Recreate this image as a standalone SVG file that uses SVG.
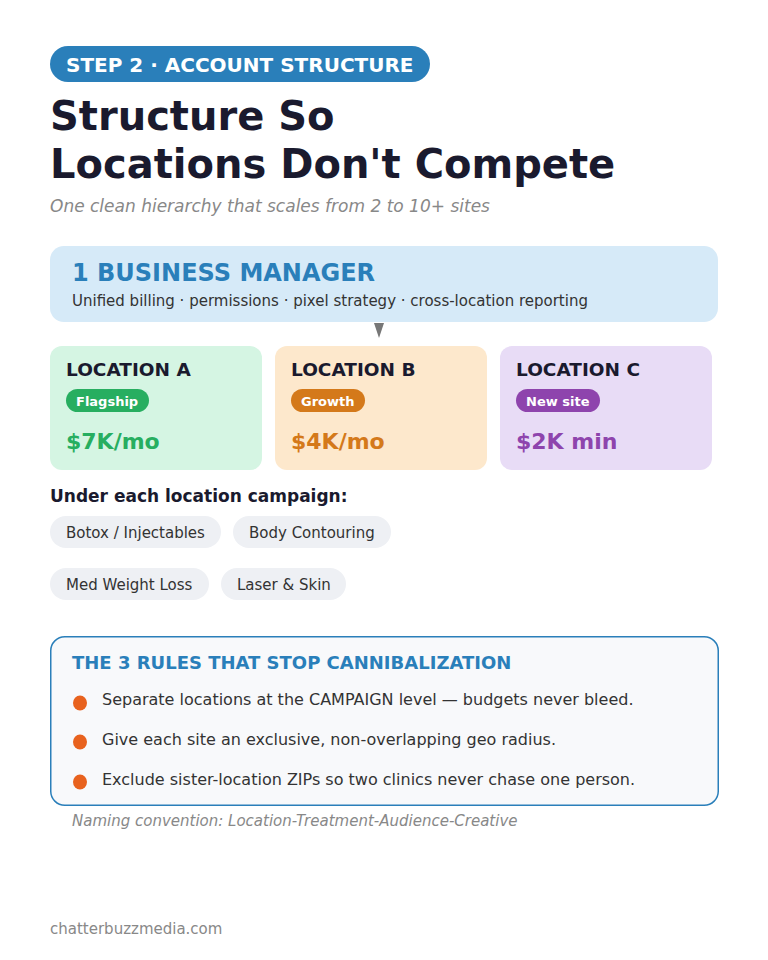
<svg xmlns="http://www.w3.org/2000/svg" width="768" height="960" viewBox="0 0 768 960">
<style>
text{font-family:"DejaVu Sans",Verdana,sans-serif}
.b{font-weight:bold}
.ct{font-size:18.5px;font-weight:bold;fill:#1a1a2e}
.bt{font-size:13px;font-weight:bold;fill:#fff}
.val{font-size:22px;font-weight:bold}
.chip{fill:#eef0f4}
.ctx{font-size:15px;fill:#333}
.rule{font-size:16px;fill:#333}
.dot{fill:#e8621e}
</style>
<rect width="768" height="960" fill="#fff"/>
<g id="header">
<rect x="50" y="46" width="380" height="36" rx="18" fill="#2a7fba"/>
<text x="66" y="72" font-size="20" class="b" fill="#fff">STEP 2 · ACCOUNT STRUCTURE</text>
<text x="50" y="130" font-size="40" class="b" fill="#1a1a2e">Structure So</text>
<text x="50" y="178" font-size="40" class="b" fill="#1a1a2e">Locations Don't Compete</text>
<text x="50" y="212" font-size="17" font-style="italic" fill="#888">One clean hierarchy that scales from 2 to 10+ sites</text>
</g>
<g id="business-manager">
<rect x="50" y="246" width="668" height="76" rx="14" fill="#d6eaf8"/>
<text x="72" y="281" font-size="24" class="b" fill="#2a7fba">1 BUSINESS MANAGER</text>
<text x="72" y="306" font-size="15" fill="#333">Unified billing · permissions · pixel strategy · cross-location reporting</text>
</g>
<g id="connectors">
<polygon points="374,323 384,323 379,338" fill="#777"/>
</g>
<g id="location-a">
<rect x="50" y="346" width="212" height="124" rx="12" fill="#d5f5e3"/>
<text x="66" y="376" class="ct">LOCATION A</text>
<rect x="66" y="389" width="83" height="23" rx="11.5" fill="#27ae60"/>
<text x="76" y="405.5" class="bt">Flagship</text>
<text x="66" y="449" class="val" fill="#27ae60">$7K/mo</text>
</g>
<g id="location-b">
<rect x="275" y="346" width="212" height="124" rx="12" fill="#fde8cc"/>
<text x="291" y="376" class="ct">LOCATION B</text>
<rect x="291" y="389" width="74" height="23" rx="11.5" fill="#d4791a"/>
<text x="301" y="405.5" class="bt">Growth</text>
<text x="291" y="449" class="val" fill="#d4791a">$4K/mo</text>
</g>
<g id="location-c">
<rect x="500" y="346" width="212" height="124" rx="12" fill="#e8dcf6"/>
<text x="516" y="376" class="ct">LOCATION C</text>
<rect x="516" y="389" width="84" height="23" rx="11.5" fill="#8e44ad"/>
<text x="526" y="405.5" class="bt">New site</text>
<text x="516" y="449" class="val" fill="#8e44ad">$2K min</text>
</g>
<g id="campaigns">
<text x="50" y="502" font-size="17" class="b" fill="#1a1a2e">Under each location campaign:</text>
<rect class="chip" x="50" y="516" width="171" height="32" rx="16"/>
<text class="ctx" x="66" y="538">Botox / Injectables</text>
<rect class="chip" x="233" y="516" width="158" height="32" rx="16"/>
<text class="ctx" x="249" y="538">Body Contouring</text>
<rect class="chip" x="50" y="568" width="159" height="32" rx="16"/>
<text class="ctx" x="66" y="590">Med Weight Loss</text>
<rect class="chip" x="221" y="568" width="125" height="32" rx="16"/>
<text class="ctx" x="237" y="590">Laser &amp; Skin</text>
</g>
<g id="rules">
<rect x="50.75" y="636.75" width="667.5" height="168.5" rx="14" fill="#f8f9fb" stroke="#2a7fba" stroke-width="1.5"/>
<text x="72" y="669" font-size="18" class="b" fill="#2a7fba">THE 3 RULES THAT STOP CANNIBALIZATION</text>
<ellipse class="dot" cx="80" cy="703" rx="7" ry="7.5"/>
<text class="rule" x="102" y="705">Separate locations at the CAMPAIGN level — budgets never bleed.</text>
<ellipse class="dot" cx="80" cy="742" rx="7" ry="7.5"/>
<text class="rule" x="102" y="745">Give each site an exclusive, non-overlapping geo radius.</text>
<ellipse class="dot" cx="80" cy="782" rx="7" ry="7.5"/>
<text class="rule" x="102" y="785">Exclude sister-location ZIPs so two clinics never chase one person.</text>
</g>
<g id="footer">
<text x="72" y="826" font-size="15" font-style="italic" fill="#888">Naming convention: Location-Treatment-Audience-Creative</text>
<text x="50" y="934" font-size="15" fill="#888">chatterbuzzmedia.com</text>
</g>
</svg>
